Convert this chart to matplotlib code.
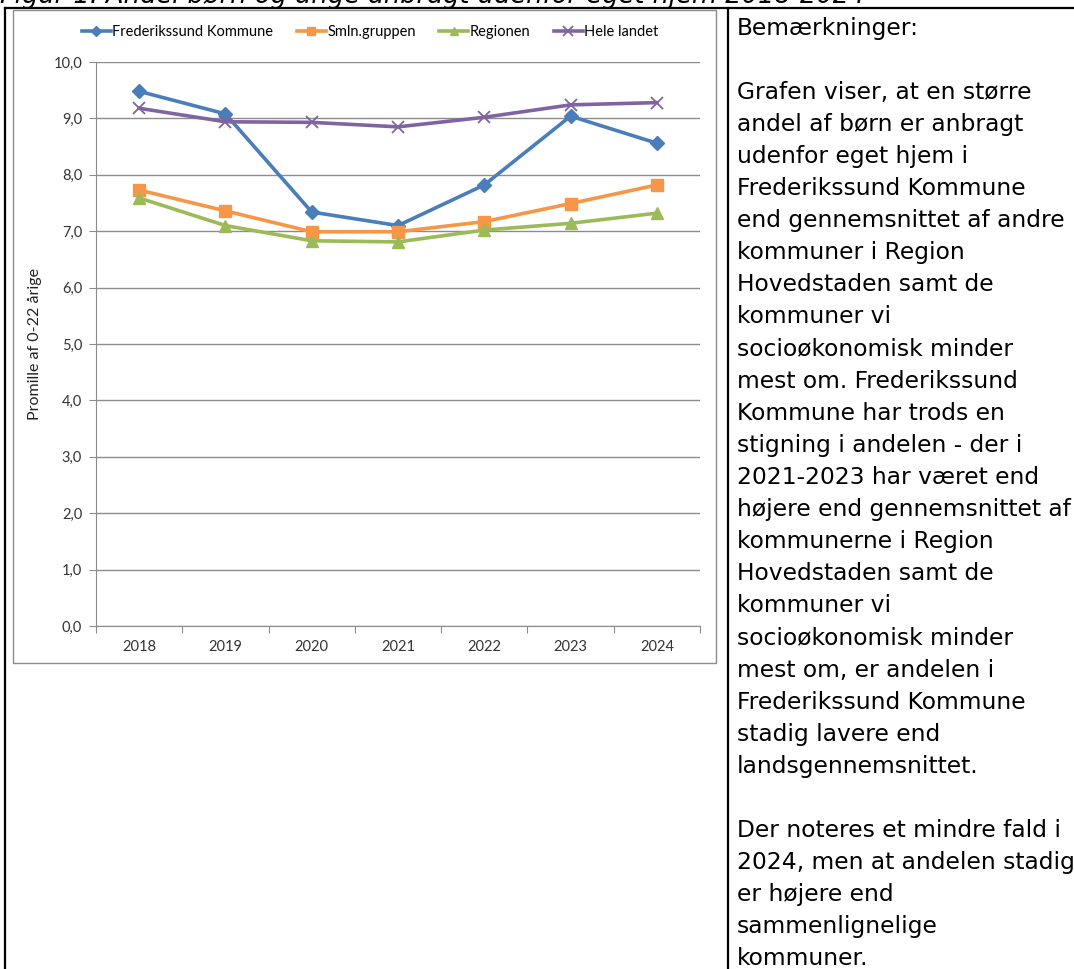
import numpy as np
import matplotlib.pyplot as plt
from matplotlib.lines import Line2D
from matplotlib.patches import Rectangle

# Data (promille af 0-22 årige)
years = ["2018", "2019", "2020", "2021", "2022", "2023", "2024"]
frederikssund = [9.48, 9.08, 7.34, 7.10, 7.82, 9.04, 8.56]
smln_gruppen = [7.73, 7.36, 6.99, 6.99, 7.17, 7.49, 7.82]
regionen = [7.59, 7.10, 6.83, 6.81, 7.02, 7.14, 7.32]
hele_landet = [9.18, 8.94, 8.93, 8.85, 9.02, 9.24, 9.28]

series_names = ["Frederikssund Kommune", "Smln.gruppen", "Regionen", "Hele landet"]
y_ticks = [0, 1, 2, 3, 4, 5, 6, 7, 8, 9, 10]

caption = "Figur 1. Andel børn og unge anbragt udenfor eget hjem 2018-2024"
remarks = [
    "Bemærkninger:",
    "",
    "Grafen viser, at en større",
    "andel af børn er anbragt",
    "udenfor eget hjem i",
    "Frederikssund Kommune",
    "end gennemsnittet af andre",
    "kommuner i Region",
    "Hovedstaden samt de",
    "kommuner vi",
    "socioøkonomisk minder",
    "mest om. Frederikssund",
    "Kommune har trods en",
    "stigning i andelen - der i",
    "2021-2023 har været end",
    "højere end gennemsnittet af",
    "kommunerne i Region",
    "Hovedstaden samt de",
    "kommuner vi",
    "socioøkonomisk minder",
    "mest om, er andelen i",
    "Frederikssund Kommune",
    "stadig lavere end",
    "landsgennemsnittet.",
    "",
    "Der noteres et mindre fald i",
    "2024, men at andelen stadig",
    "er højere end",
    "sammenlignelige",
    "kommuner.",
]

W, H = 1074, 969
fig = plt.figure(figsize=(W / 100, H / 100), dpi=100)

def fx(px):
    return px / W

def fy(py):
    return 1 - py / H

# table borders and chart frame
black = dict(color="black", lw=1.6, transform=fig.transFigure)
fig.add_artist(Line2D([fx(4.5), fx(4.5)], [fy(8), 0], **black))
fig.add_artist(Line2D([fx(4.5), 1], [fy(8), fy(8)], **black))
fig.add_artist(Line2D([fx(728), fx(728)], [fy(8), 0], **black))
fig.add_artist(Rectangle((fx(13), fy(663)), fx(716) - fx(13), fy(10) - fy(663),
                         transform=fig.transFigure, fill=False, ec="#8c8c8c", lw=1))

# caption, cut off at the top of the page
fig.text(fx(0), fy(3), caption, fontsize=18.5, style="italic", family="DejaVu Sans",
         va="baseline", ha="left")

chart_font = "Lato"
ax = fig.add_axes([fx(96), fy(626), fx(700) - fx(96), fy(62) - fy(626)])
x = np.arange(len(years))

styles = [
    (frederikssund, "#4a7ebb", "D", 7),
    (smln_gruppen, "#f79646", "s", 8),
    (regionen, "#9bbb59", "^", 8),
    (hele_landet, "#8064a2", "x", 8.5),
]
for (vals, col, mk, ms), name in zip(styles, series_names):
    ax.plot(x, vals, color=col, lw=2.6, marker=mk, ms=ms, mec=col, mfc=col,
            mew=1.3 if mk == "x" else 1, label=name, zorder=3)

ax.set_xlim(-0.5, len(years) - 0.5)
ax.set_ylim(0, 10)
ax.set_yticks(y_ticks)
ax.set_yticklabels([f"{v:.1f}".replace(".", ",") for v in y_ticks],
                   fontsize=10.5, family=chart_font, color="#333333")
ax.set_xticks(np.arange(-0.5, len(years)), minor=False)
ax.set_xticklabels([])
ax.set_xticks(x, minor=True)
ax.set_xticklabels(years, minor=True, fontsize=10.5, family=chart_font, color="#333333")
ax.tick_params(axis="x", which="major", length=5, color="#8c8c8c", direction="out")
ax.tick_params(axis="x", which="minor", length=0, pad=10)
ax.tick_params(axis="y", length=5, color="#8c8c8c", pad=5)
ax.grid(axis="y", color="#8c8c8c", lw=1)
ax.set_axisbelow(True)
for side in ["top", "right"]:
    ax.spines[side].set_visible(False)
for side in ["left", "bottom"]:
    ax.spines[side].set_color("#8c8c8c")
ax.set_ylabel("Promille af 0-22 årige", fontsize=11.5, family=chart_font,
              color="#222222", labelpad=8)

fig.legend(loc="center", bbox_to_anchor=(fx(370), fy(32)), ncol=4, frameon=False,
           prop={"family": chart_font, "size": 10.5}, handlelength=2.0,
           handletextpad=0.1, columnspacing=1.6, markerscale=0.8)

# remarks column
for i, line in enumerate(remarks):
    fig.text(fx(737), fy(28 + i * 32.1), line, fontsize=16.8, family="DejaVu Sans",
             va="center", ha="left")

fig.savefig("out.png", dpi=100)
